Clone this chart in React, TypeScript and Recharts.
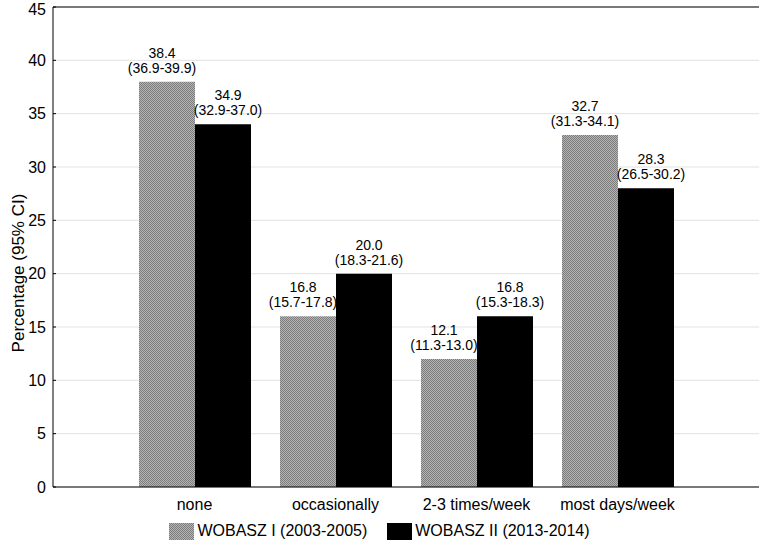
import React from "react";
import { BarChart, Bar, XAxis, YAxis, CartesianGrid, LabelList, ReferenceLine, Legend } from "recharts";

const categories = ["none", "occasionally", "2-3 times/week", "most days/week"];
const wobasz1 = [38, 16, 12, 33];
const wobasz2 = [34, 20, 16, 28];
const wobasz1Val = ["38.4", "16.8", "12.1", "32.7"];
const wobasz1CI = ["(36.9-39.9)", "(15.7-17.8)", "(11.3-13.0)", "(31.3-34.1)"];
const wobasz2Val = ["34.9", "20.0", "16.8", "28.3"];
const wobasz2CI = ["(32.9-37.0)", "(18.3-21.6)", "(15.3-18.3)", "(26.5-30.2)"];
const seriesNames = ["WOBASZ I (2003-2005)", "WOBASZ II (2013-2014)"];
const yTicks = [0, 5, 10, 15, 20, 25, 30, 35, 40, 45];

const data = categories.map((c, i) => ({ cat: c, w1: wobasz1[i], w2: wobasz2[i] }));

const FONT = "'Liberation Sans', Arial, sans-serif";

function barLabel(vals: string[], cis: string[], shift: number) {
  return (p: any) => {
    const cx = Number(p.x) + Number(p.width) / 2 + shift;
    const top = Number(p.y);
    const i = p.index;
    return (
      <g>
        <text x={cx} y={top - 24} textAnchor="middle" fontSize={14} fontFamily={FONT} fill="#000">{vals[i]}</text>
        <text x={cx} y={top - 9} textAnchor="middle" fontSize={14} fontFamily={FONT} fill="#000">{cis[i]}</text>
      </g>
    );
  };
}

function LegendBox() {
  const sw = (fill: string) => (
    <svg width={25} height={17} style={{ display: "block" }}>
      <rect width={25} height={17} fill={fill} />
    </svg>
  );
  return (
    <div style={{ display: "flex", justifyContent: "center", alignItems: "center", height: 20, fontFamily: FONT, fontSize: 16, color: "#000" }}>
      {sw("url(#dither)")}
      <span style={{ marginLeft: 3, marginRight: 20 }}>{seriesNames[0]}</span>
      {sw("#000")}
      <span style={{ marginLeft: 3 }}>{seriesNames[1]}</span>
    </div>
  );
}

export default function App() {
  return (
    <div style={{ position: "absolute", left: 0, top: 0, width: 761, height: 541, background: "#fff" }}>
      <svg width={0} height={0} style={{ position: "absolute" }}>
        <defs>
          <pattern id="dither" width={2} height={2} patternUnits="userSpaceOnUse">
            <rect width={2} height={2} fill="#b4b4b4" />
            <rect x={0} y={0} width={1} height={1} fill="#7c7c7c" />
            <rect x={1} y={1} width={1} height={1} fill="#7c7c7c" />
          </pattern>
        </defs>
      </svg>
      <BarChart width={761} height={541} data={data} margin={{ top: 7, right: 2, left: 0, bottom: 0 }} barGap={0}>
        <CartesianGrid vertical={false} stroke="#e2e2e2" />
        <XAxis
          dataKey="cat"
          padding={{ left: 71, right: 71 }}
          height={34}
          axisLine={{ stroke: "#000" }}
          tickLine={false}
          tickSize={6}
          tickMargin={6}
          tick={{ fill: "#000", fontSize: 16, fontFamily: FONT }}
          interval={0}
        />
        <YAxis
          domain={[0, 45]}
          ticks={yTicks}
          width={53}
          axisLine={{ stroke: "#000" }}
          tickLine={{ stroke: "#000" }}
          tickSize={-3}
          tickMargin={10}
          tick={{ fill: "#000", fontSize: 16, fontFamily: FONT }}
          label={{
            content: () => (
              <text x={18} y={273} transform="rotate(-90, 18, 273)" textAnchor="middle" dominantBaseline="central" fontSize={17} fontFamily={FONT} fill="#000">
                Percentage (95% CI)
              </text>
            ),
          }}
        />
        <YAxis
          yAxisId="right"
          orientation="right"
          domain={[0, 45]}
          ticks={yTicks}
          width={0}
          axisLine={{ stroke: "#000" }}
          tickLine={{ stroke: "#000" }}
          tickSize={-3}
          tick={() => <g />}
        />
        <ReferenceLine y={45} stroke="#000" />
        <Legend verticalAlign="bottom" content={() => <LegendBox />} />
        <Bar dataKey="w1" name={seriesNames[0]} fill="url(#dither)" barSize={56} isAnimationActive={false}>
          <LabelList dataKey="w1" content={barLabel(wobasz1Val, wobasz1CI, -5)} />
        </Bar>
        <Bar dataKey="w2" name={seriesNames[1]} fill="#000" barSize={56} isAnimationActive={false}>
          <LabelList dataKey="w2" content={barLabel(wobasz2Val, wobasz2CI, 5)} />
        </Bar>
      </BarChart>
    </div>
  );
}
